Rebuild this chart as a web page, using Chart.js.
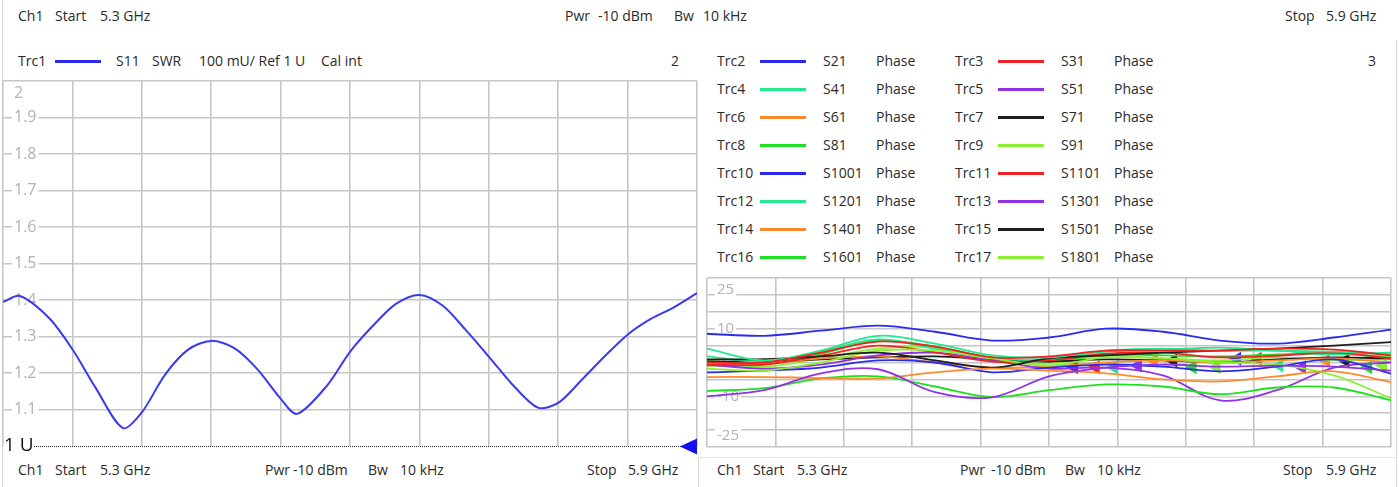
<!DOCTYPE html>
<html>
<head>
<meta charset="utf-8">
<title>VNA SWR / Phase</title>
<script src="https://cdn.jsdelivr.net/npm/chart.js@4.4.0/dist/chart.umd.min.js"></script>
<style>
    body { margin: 0; background: #fff; font-family: 'Open Sans', sans-serif; color: #2a2a2a; }
    #page { position: relative; width: 1399px; height: 487px; overflow: hidden; }
    .t { position: absolute; font-size: 14px; line-height: 18px; white-space: nowrap; }
    .sw { position: absolute; height: 3px; }
    .vl { position: absolute; width: 1px; background: #d8d8d8; }
    canvas { position: absolute; }
</style>
</head>
<body>
<div id="page">
    <div class="vl" style="left:2px; top:0; height:487px;"></div>
    <div class="vl" style="left:1396px; top:40px; height:447px;"></div>
    <div style="position:absolute; left:698px; top:457px; width:698px; height:40px; border-left:1px solid #d8d8d8; border-top:1px solid #e4e4e4;"></div>

    <!-- header -->
    <span class="t" style="left:18px; top:7px;">Ch1</span>
    <span class="t" style="left:55px; top:7px;">Start</span>
    <span class="t" style="left:100px; top:7px;">5.3 GHz</span>
    <span class="t" style="left:565px; top:7px;">Pwr</span>
    <span class="t" style="left:598px; top:7px;">-10 dBm</span>
    <span class="t" style="left:674px; top:7px;">Bw</span>
    <span class="t" style="left:703px; top:7px;">10 kHz</span>
    <span class="t" style="left:1285px; top:7px;">Stop</span>
    <span class="t" style="left:1326px; top:7px;">5.9 GHz</span>

    <!-- left title -->
    <span class="t" style="left:18px; top:52px;">Trc1</span>
    <div class="sw" style="left:55px; top:60px; width:46px; background:#2b2bf0;"></div>
    <span class="t" style="left:116px; top:52px;">S11</span>
    <span class="t" style="left:152px; top:52px;">SWR</span>
    <span class="t" style="left:199px; top:52px;">100 mU/ Ref 1 U</span>
    <span class="t" style="left:321px; top:52px;">Cal int</span>
    <span class="t" style="left:671px; top:52px;">2</span>
    <span class="t" style="left:1368px; top:52px;">3</span>

    <div id="legend"></div>

    <canvas id="swrChart" width="700" height="390" style="left:0; top:70px;"></canvas>
    <canvas id="phaseChart" width="700" height="190" style="left:699px; top:270px;"></canvas>

    <!-- footers -->
    <span class="t" style="left:18px; top:461px;">Ch1</span>
    <span class="t" style="left:55px; top:461px;">Start</span>
    <span class="t" style="left:100px; top:461px;">5.3 GHz</span>
    <span class="t" style="left:265px; top:461px;">Pwr</span>
    <span class="t" style="left:293px; top:461px;">-10 dBm</span>
    <span class="t" style="left:368px; top:461px;">Bw</span>
    <span class="t" style="left:400px; top:461px;">10 kHz</span>
    <span class="t" style="left:587px; top:461px;">Stop</span>
    <span class="t" style="left:628px; top:461px;">5.9 GHz</span>

    <span class="t" style="left:717px; top:461px;">Ch1</span>
    <span class="t" style="left:753px; top:461px;">Start</span>
    <span class="t" style="left:797px; top:461px;">5.3 GHz</span>
    <span class="t" style="left:960px; top:461px;">Pwr</span>
    <span class="t" style="left:991px; top:461px;">-10 dBm</span>
    <span class="t" style="left:1065px; top:461px;">Bw</span>
    <span class="t" style="left:1097px; top:461px;">10 kHz</span>
    <span class="t" style="left:1283px; top:461px;">Stop</span>
    <span class="t" style="left:1326px; top:461px;">5.9 GHz</span>
</div>

<script>
// Trc1 - S11 SWR
const swrFreq = [5.30, 5.3147, 5.34, 5.36, 5.38, 5.4037, 5.42, 5.44, 5.46, 5.48,
    5.50, 5.52, 5.54, 5.5542, 5.58, 5.60, 5.62, 5.64, 5.66, 5.68,
    5.70, 5.72, 5.74, 5.7625, 5.78, 5.80, 5.82, 5.84, 5.86, 5.88, 5.90];
const swrValues = [1.395, 1.411, 1.350, 1.265, 1.160, 1.049, 1.092, 1.195, 1.264, 1.288,
    1.268, 1.210, 1.130, 1.088, 1.165, 1.258, 1.330, 1.390, 1.414, 1.385,
    1.318, 1.245, 1.170, 1.105, 1.118, 1.180, 1.245, 1.305, 1.348, 1.380, 1.419];
const swrLabels = [1.1, 1.2, 1.3, 1.4, 1.5, 1.6, 1.7, 1.8, 1.9, 2];
const refLevel = 1;

// Trc2..Trc17 - phase (deg)
const phaseFreq = [5.30, 5.35, 5.40, 5.45, 5.50, 5.55, 5.60, 5.65, 5.70, 5.75, 5.80, 5.85, 5.90];
const s21 = [8.5, 7.9, 9.4, 10.9, 9.1, 6.5, 7.4, 10.0, 9.1, 6.5, 5.6, 7.4, 9.7];
const s31 = [0.0, 0.0, 2.9, 6.2, 4.7, 1.5, 1.8, 3.5, 3.5, 3.5, 4.1, 3.8, 2.1];
const s41 = [4.1, 0.6, 3.5, 7.9, 5.6, 2.1, 1.5, 3.5, 4.1, 3.5, 3.5, 3.2, 2.6];
const s51 = [-10.0, -8.2, -3.2, -2.0, -8.8, -10.3, -4.1, -1.5, -0.6, -1.2, -0.9, -1.2, -2.4];
const s61 = [-4.3, -4.3, -4.6, -4.7, -2.9, -1.8, -2.4, -3.2, -5.0, -5.6, -4.1, -2.6, -5.8];
const s71 = [0.9, 1.0, 1.8, 2.9, 0.6, -1.5, 1.2, 2.1, 2.9, 3.5, 4.1, 5.0, 6.0];
const s81 = [-8.4, -7.6, -4.7, -4.1, -7.1, -10.2, -8.2, -6.5, -7.1, -9.4, -7.4, -7.4, -11.2];
const s91 = [-1.8, -2.4, 0.0, 3.5, 3.5, 1.2, -0.9, 1.5, 1.2, 0.0, -0.6, -3.8, -10.6];
const s1001 = [-2.9, -2.4, -1.5, 0.6, 0.0, -2.9, -1.5, -0.6, -1.2, -2.6, -1.2, 0.9, -3.3];
const s1101 = [-0.6, -0.6, 2.0, 5.0, 3.0, 0.3, 0.6, 2.6, 2.9, 1.5, 2.0, 2.9, 1.2];
const s1201 = [1.8, 0.3, 3.2, 6.8, 4.1, 1.2, 0.9, 3.2, 3.8, 4.4, 3.5, 2.4, 2.9];
const s1301 = [-0.6, -1.8, -0.6, 2.1, 2.9, 0.6, -1.8, -1.5, -3.8, -11.2, -8.2, -1.5, 0.0];
const s1401 = [-0.9, -0.3, 1.2, 1.8, 0.0, -1.5, -1.2, 0.0, 0.6, 0.0, 0.6, 1.2, 0.0];
const s1501 = [0.3, 0.3, 0.9, 1.5, 1.8, 0.9, 0.3, 0.9, 0.6, 0.0, 0.9, 1.5, 1.2];
const s1601 = [-0.9, -0.6, 2.6, 6.5, 4.7, 1.5, 0.3, 2.4, 2.1, 1.8, 2.4, 2.6, 1.5];
const s1801 = [0.6, -1.2, 1.2, 4.1, 4.4, 0.6, -0.3, 2.0, 1.2, 0.6, 1.5, 0.6, 0.9];
const phaseLabels = [25, 10, 0, -10, -25];

const traceNames = ['Trc2', 'Trc3', 'Trc4', 'Trc5', 'Trc6', 'Trc7', 'Trc8', 'Trc9',
    'Trc10', 'Trc11', 'Trc12', 'Trc13', 'Trc14', 'Trc15', 'Trc16', 'Trc17'];
const traceParams = ['S21', 'S31', 'S41', 'S51', 'S61', 'S71', 'S81', 'S91',
    'S1001', 'S1101', 'S1201', 'S1301', 'S1401', 'S1501', 'S1601', 'S1801'];
const traceValues = [s21, s31, s41, s51, s61, s71, s81, s91,
    s1001, s1101, s1201, s1301, s1401, s1501, s1601, s1801];
const palette = ['#2b2bf0', '#f02424', '#22e88e', '#9232e6', '#ff8a2c', '#1e1e1e', '#1fe01f', '#8cf032'];
const traceColors = traceNames.map((n, i) => palette[i % 8]);

// marker triangles sitting on the traces
const markerFreq = [5.622, 5.641, 5.657, 5.678, 5.692, 5.709, 5.726, 5.747,
    5.765, 5.783, 5.802, 5.822, 5.843, 5.860, 5.880, 5.893];
const markerPhase = [-1.4, -1.4, -1.4, -0.9, 0.6, 0.6, -1.4, -1.4,
    1.1, 1.1, -0.9, -1.4, 0.6, 0.6, -1.4, -0.9];

// Legend
const legend = document.getElementById('legend');
traceNames.forEach((name, i) => {
    const col = i % 2, row = Math.floor(i / 2);
    const x = col === 0 ? 717 : 955;
    const top = 52 + row * 28;
    legend.insertAdjacentHTML('beforeend', `
        <span class="t" style="left:${x}px; top:${top}px;">${name}</span>
        <div class="sw" style="left:${x + 43}px; top:${top + 8}px; width:46px; background:${traceColors[i]};"></div>
        <span class="t" style="left:${x + 106}px; top:${top}px;">${traceParams[i]}</span>
        <span class="t" style="left:${x + 159}px; top:${top}px;">Phase</span>`);
});

const GRID = '#c6c6c6';

// draws y labels inside the plot, on a white patch over the grid line
const gridLabels = {
    id: 'gridLabels',
    beforeDatasetsDraw(chart, args, opts) {
        const { ctx, chartArea } = chart;
        const y = chart.scales.y;
        ctx.save();
        ctx.font = opts.font;
        ctx.textBaseline = 'middle';
        ctx.textAlign = 'left';
        opts.values.forEach(v => {
            const text = String(v);
            const w = ctx.measureText(text).width;
            const h = opts.size;
            let py = y.getPixelForValue(v);
            if (py - h / 2 < chartArea.top) py = chartArea.top + h / 2 + 3;
            if (py + h / 2 > chartArea.bottom) py = chartArea.bottom - h / 2 - 3;
            const px = chartArea.left + opts.offset;
            ctx.fillStyle = '#fff';
            ctx.fillRect(px - 2, py - h / 2 + 2, w + 4, h - 4);
            ctx.fillStyle = '#b2b2b2';
            ctx.fillText(text, px, py);
        });
        ctx.restore();
    }
};

// reference level line "1 U" with its marker
const refLine = {
    id: 'refLine',
    afterDatasetsDraw(chart) {
        const { ctx, chartArea } = chart;
        const py = Math.round(chart.scales.y.getPixelForValue(refLevel)) + 0.5;
        ctx.save();
        ctx.fillStyle = '#111';
        ctx.font = "19px 'Open Sans', sans-serif";
        ctx.textBaseline = 'middle';
        ctx.fillText('1 U', 4, py - 1);
        ctx.strokeStyle = '#222';
        ctx.lineWidth = 1;
        ctx.setLineDash([1, 1]);
        ctx.beginPath();
        ctx.moveTo(34, py);
        ctx.lineTo(chartArea.right - 16, py);
        ctx.stroke();
        ctx.setLineDash([]);
        ctx.fillStyle = '#1010f0';
        ctx.beginPath();
        ctx.moveTo(chartArea.right - 17, py);
        ctx.lineTo(chartArea.right, py - 8);
        ctx.lineTo(chartArea.right, py + 8);
        ctx.closePath();
        ctx.fill();
        ctx.restore();
    }
};

function baseScales(yMin, yMax, hideValue) {
    return {
        x: {
            type: 'linear', min: 5.3, max: 5.9,
            ticks: { display: false, count: 11 },
            grid: { color: GRID, lineWidth: 1.6, drawTicks: false },
            border: { display: false },
            afterFit: s => { s.height = 0; }
        },
        y: {
            type: 'linear', min: yMin, max: yMax,
            ticks: { display: false, count: 11 },
            grid: {
                color: c => (hideValue !== undefined && Math.abs(c.tick.value - hideValue) < 1e-6) ? 'rgba(0,0,0,0)' : GRID,
                lineWidth: 1.6, drawTicks: false
            },
            border: { display: false },
            afterFit: s => { s.width = 0; }
        }
    };
}

new Chart(document.getElementById('swrChart'), {
    type: 'line',
    data: {
        datasets: [{
            label: 'Trc1 S11 SWR',
            data: swrFreq.map((f, i) => ({ x: f, y: swrValues[i] })),
            borderColor: '#3a3af0',
            borderWidth: 2,
            pointRadius: 0,
            tension: 0.3
        }]
    },
    options: {
        responsive: false,
        animation: false,
        layout: { padding: { left: 3, right: 3, top: 11, bottom: 14 } },
        plugins: {
            legend: { display: false },
            tooltip: { enabled: false },
            gridLabels: { values: swrLabels, font: "16px 'Open Sans', sans-serif", size: 18, offset: 11 }
        },
        scales: baseScales(1, 2, refLevel)
    },
    plugins: [gridLabels, refLine]
});

const phaseSets = traceValues.map((vals, i) => ({
    label: traceNames[i],
    data: phaseFreq.map((f, k) => ({ x: f, y: vals[k] })),
    borderColor: traceColors[i],
    borderWidth: 1.8,
    pointRadius: 0,
    tension: 0.35
}));
phaseSets.push({
    label: 'Markers',
    data: markerFreq.map((f, k) => ({ x: f, y: markerPhase[k] })),
    showLine: false,
    pointStyle: 'triangle',
    pointRotation: -90,
    pointRadius: 8,
    pointBorderWidth: 0,
    pointBackgroundColor: traceColors,
    pointBorderColor: traceColors
});

new Chart(document.getElementById('phaseChart'), {
    type: 'line',
    data: { datasets: phaseSets },
    options: {
        responsive: false,
        animation: false,
        layout: { padding: { left: 3, right: 6, top: 8, bottom: 13 } },
        plugins: {
            legend: { display: false },
            tooltip: { enabled: false },
            gridLabels: { values: phaseLabels, font: "15px 'Open Sans', sans-serif", size: 17, offset: 10 }
        },
        scales: baseScales(-25, 25)
    },
    plugins: [gridLabels]
});
</script>
</body>
</html>
